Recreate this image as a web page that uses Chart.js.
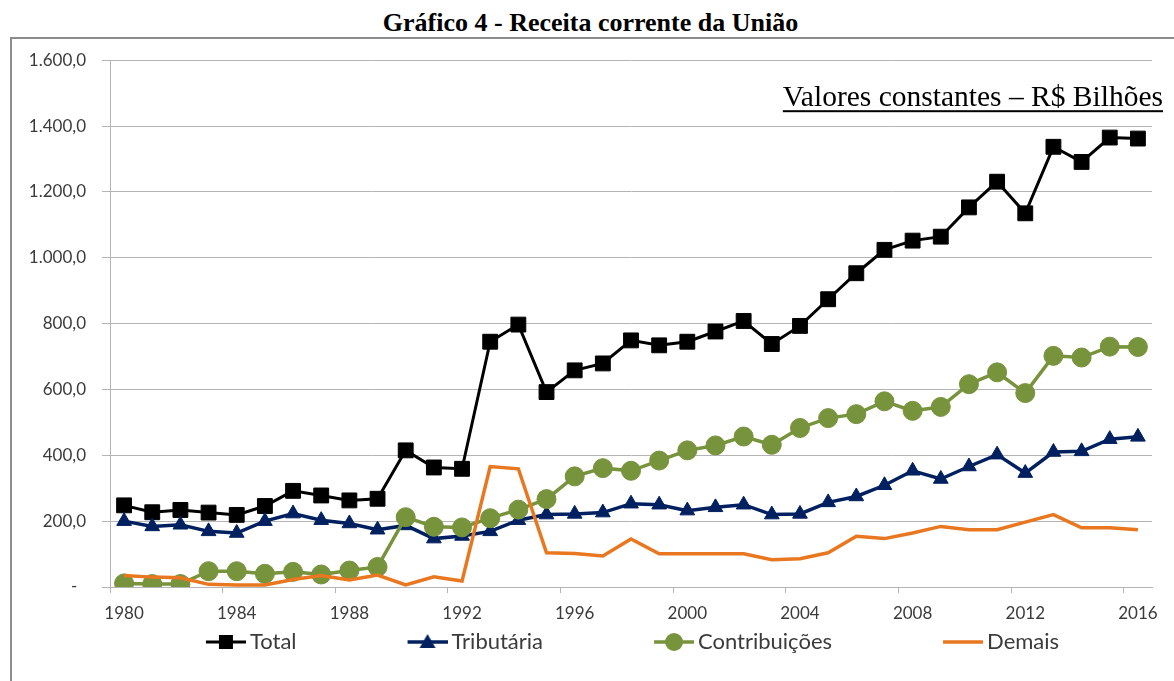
<!DOCTYPE html>
<html lang="pt-BR">
<head>
<meta charset="utf-8">
<title>Gráfico 4 - Receita corrente da União</title>
<script src="https://cdn.jsdelivr.net/npm/chart.js@4.4.0/dist/chart.umd.min.js"></script>
<style>
html,body{margin:0;padding:0;width:1174px;height:681px;overflow:hidden;background:#fff;}
#title{position:absolute;left:0;top:8px;width:1181px;text-align:center;font:bold 26px/30px "Liberation Serif","Times New Roman",serif;color:#000;white-space:nowrap;}
#frame{position:absolute;left:10px;top:37px;width:1300px;height:700px;border-top:2px solid #8c8c8c;border-left:2px solid #8c8c8c;}
#chart{position:absolute;left:12px;top:34px;}
</style>
</head>
<body>
<div id="title">Gráfico 4 - Receita corrente da União</div>
<div id="frame"></div>
<canvas id="chart" width="1160" height="650"></canvas>
<script>
// ---- data (R$ bilhões, valores constantes) ----
const years = [1980,1981,1982,1983,1984,1985,1986,1987,1988,1989,
               1990,1991,1992,1993,1994,1995,1996,1997,1998,1999,
               2000,2001,2002,2003,2004,2005,2006,2007,2008,2009,
               2010,2011,2012,2013,2014,2015,2016];
const total = [248,227,234,226,219,246,292,278,263,268,
               415,363,359,745,797,592,658,679,749,734,
               745,776,808,738,793,874,953,1024,1052,1064,
               1153,1231,1135,1337,1291,1365,1362];
const tributaria = [200,184,189,169,164,200,223,203,193,174,
                    187,147,155,169,203,220,222,226,253,250,
                    232,242,250,220,222,257,275,309,353,328,
                    366,402,346,410,412,449,456];
const contribuicoes = [11,9,9,48,48,40,46,38,50,61,
                       212,183,181,209,235,267,336,361,353,384,
                       415,430,457,432,483,513,525,564,535,547,
                       616,652,589,702,697,730,729];
const demais = [35,30,28,8,6,6,23,35,21,36,
                6,31,18,366,359,104,102,94,146,101,
                101,101,101,83,86,104,154,147,164,184,
                174,174,197,220,180,180,174];
const seriesNames = ['Total','Tributária','Contribuições','Demais'];
const yTickLabels = ['-  ','200,0','400,0','600,0','800,0','1.000,0','1.200,0','1.400,0','1.600,0'];
const unitNote = 'Valores constantes – R$ Bilhões';

// ---- styles ----
const GRID = '#b4b4b4';
const TEXT = '#3b3b3b';
const COLORS = ['#000000','#002060','#77933C','#E8771F'];
const WIDTHS = [3, 3.5, 3.5, 3.5];
const LEG_BOX = 134, LEG_FONT = 22;
const LEG_IMG_W = LEG_BOX + LEG_FONT - 8;

function legendIcon(color, marker, lw) {
  const c = document.createElement('canvas');
  c.width = LEG_IMG_W; c.height = 24;
  const g = c.getContext('2d');
  const x1 = LEG_IMG_W, x0 = x1 - 40, cy = 12, cx = x0 + 20;
  g.strokeStyle = color; g.fillStyle = color; g.lineWidth = lw;
  g.beginPath(); g.moveTo(x0, cy); g.lineTo(x1, cy); g.stroke();
  g.beginPath();
  if (marker === 'rect') g.rect(cx - 7, cy - 7, 14, 14);
  else if (marker === 'triangle') { g.moveTo(cx, cy - 8); g.lineTo(cx + 8, cy + 6); g.lineTo(cx - 8, cy + 6); g.closePath(); }
  else if (marker === 'circle') g.arc(cx, cy, 9, 0, Math.PI * 2);
  if (marker) g.fill();
  return c;
}
const legendIcons = [
  legendIcon(COLORS[0], 'rect', WIDTHS[0]),
  legendIcon(COLORS[1], 'triangle', WIDTHS[1]),
  legendIcon(COLORS[2], 'circle', WIDTHS[2]),
  legendIcon(COLORS[3], null, WIDTHS[3])
];

const unitNotePlugin = {
  id: 'unitNote',
  afterDraw(chart) {
    const {ctx, chartArea} = chart;
    ctx.save();
    ctx.font = '29.5px "Liberation Serif", "Times New Roman", serif';
    ctx.fillStyle = '#000';
    ctx.textAlign = 'right';
    ctx.textBaseline = 'alphabetic';
    const x = chartArea.right + 11, y = chartArea.top + 46;
    ctx.fillText(unitNote, x, y);
    const w = ctx.measureText(unitNote).width;
    ctx.fillRect(x - w, y + 4, w, 2);
    ctx.restore();
  }
};

function ds(i, data, style, radius, order) {
  return {
    label: seriesNames[i], data: data,
    borderColor: COLORS[i], backgroundColor: COLORS[i],
    borderWidth: WIDTHS[i], tension: 0,
    pointStyle: style || 'circle', pointRadius: style ? radius : 0,
    pointBorderWidth: 1, pointBackgroundColor: COLORS[i], pointBorderColor: COLORS[i],
    pointHoverRadius: style ? radius : 0,
    order: order
  };
}

new Chart(document.getElementById('chart'), {
  type: 'line',
  data: {
    labels: years.map(String),
    datasets: [
      ds(0, total, 'rect', 10.5, 4),
      ds(1, tributaria, 'triangle', 8.5, 3),
      ds(2, contribuicoes, 'circle', 9.5, 2),
      ds(3, demais, null, 0, 1)
    ]
  },
  options: {
    responsive: false,
    animation: false,
    devicePixelRatio: 1,
    layout: {padding: {left: 0, right: 20, top: 26, bottom: 21}},
    plugins: {
      tooltip: {enabled: false},
      legend: {
        position: 'bottom',
        labels: {
          usePointStyle: true,
          pointStyleWidth: LEG_BOX,
          padding: 10,
          color: TEXT,
          font: {family: 'Lato', size: LEG_FONT},
          generateLabels: chart => chart.data.datasets.map((d, i) => ({
            text: d.label, datasetIndex: i, hidden: false,
            pointStyle: legendIcons[i], fillStyle: d.borderColor,
            strokeStyle: d.borderColor, lineWidth: 0, fontColor: TEXT
          }))
        }
      }
    },
    scales: {
      x: {
        offset: true,
        grid: {
          display: true, drawOnChartArea: false, drawTicks: true, tickLength: 6, offset: true,
          color: c => (c.index % 4 === 0 ? GRID : 'rgba(0,0,0,0)')
        },
        border: {display: true, color: GRID},
        ticks: {
          autoSkip: false, maxRotation: 0, padding: 10, color: TEXT,
          font: {family: 'Lato', size: 17},
          callback: (v, i) => ((years[i] - 1980) % 4 === 0 ? String(years[i]) : '')
        },
        afterFit: s => { s.height = 34; }
      },
      y: {
        min: 0, max: 1600,
        grid: {color: GRID, tickLength: 8, drawTicks: true},
        border: {display: true, color: GRID},
        ticks: {
          stepSize: 200, padding: 16, color: TEXT,
          font: {family: 'Lato', size: 17},
          callback: v => yTickLabels[Math.round(v / 200)]
        },
        afterFit: s => { s.width = 98; }
      }
    }
  },
  plugins: [unitNotePlugin]
});
</script>
</body>
</html>
